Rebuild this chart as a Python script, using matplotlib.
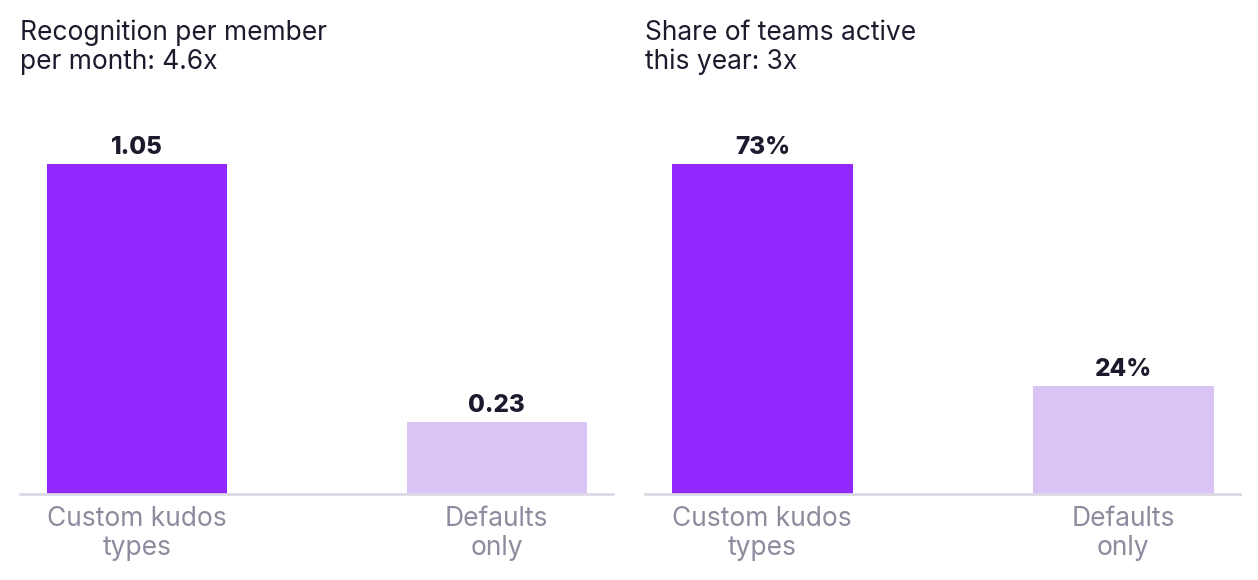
import matplotlib
matplotlib.use("Agg")
import matplotlib.pyplot as plt

categories = ["Custom kudos\ntypes", "Defaults\nonly"]
left_title = "Recognition per member\nper month: 4.6x"
left_values = [1.05, 0.23]
left_labels = ["1.05", "0.23"]
right_title = "Share of teams active\nthis year: 3x"
right_values = [73, 24]
right_labels = ["73%", "24%"]

colors = ["#9129FF", "#D9C4F5"]
plt.rcParams['font.family'] = ['Inter', 'DejaVu Sans']

W, H = 1258, 580
fig = plt.figure(figsize=(W/100, H/100), dpi=100)

def px_axes(x0, x1, ytop, ybot):
    return fig.add_axes([x0/W, 1-ybot/H, (x1-x0)/W, (ybot-ytop)/H])

panels = [
    (20, 613, left_title, left_values, left_labels),
    (645, 1240, right_title, right_values, right_labels),
]
for x0, x1, title, vals, labs in panels:
    ax = px_axes(x0, x1, 100, 494)
    xs = list(range(len(vals)))
    ax.bar(xs, vals, width=0.5, color=colors, zorder=2)
    ax.set_xlim(-0.325, 1.323)
    ax.set_ylim(0, max(vals) * 394 / 330)
    for x, v, l in zip(xs, vals, labs):
        ax.annotate(l, (x, v), xytext=(0, 3.5), textcoords="offset points",
                    ha="center", va="bottom", fontsize=17.5, fontweight="heavy",
                    color="#1C1B2E")
    for s in ["top", "right", "left"]:
        ax.spines[s].set_visible(False)
    ax.spines["bottom"].set_color("#DCD9E5")
    ax.spines["bottom"].set_linewidth(2)
    ax.set_yticks([])
    ax.set_xticks(xs)
    ax.set_xticklabels(categories, fontsize=19, color="#8E8B9E", linespacing=1.12)
    ax.tick_params(axis="x", length=0, pad=9)
    fig.text(x0/W, 1-20/H, title, ha="left", va="top", fontsize=19,
             color="#1C1B2E", linespacing=1.12)

fig.savefig("out.png", dpi=100)
